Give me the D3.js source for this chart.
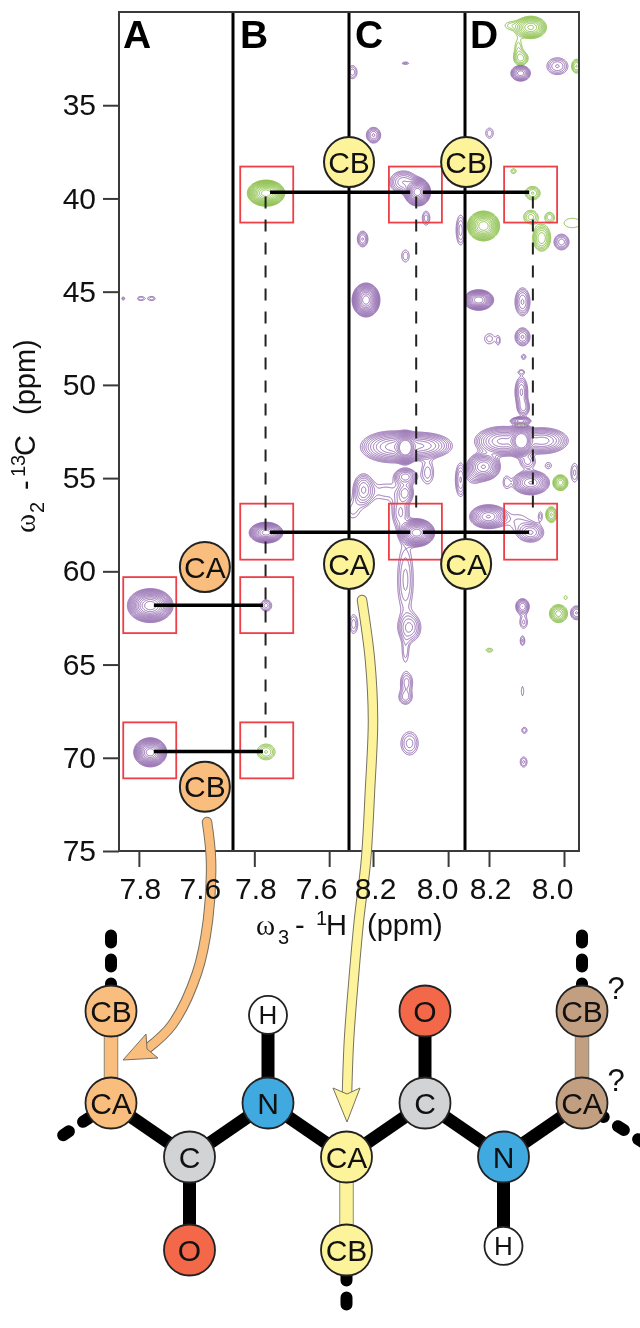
<!DOCTYPE html>
<html>
<head>
<meta charset="utf-8">
<script src="https://cdn.jsdelivr.net/npm/d3@7"></script>
<style>
  html, body { margin: 0; padding: 0; background: #fff; }
  svg { display: block; filter: blur(0.45px); font-family: "Liberation Sans", Arial, sans-serif; }
</style>
</head>
<body>
<script>
// strips of the spectrum, left to right
var panelNames = ["A", "B", "C", "D"];
var panelHLeft = [7.853, 7.857, 8.264, 8.264];
var panelHRight = [7.549, 7.547, 7.955, 7.96];
var xTicks = [[7.8, 7.6], [7.8, 7.6], [8.2, 8.0], [8.2, 8.0]];
var yTicks = [35, 40, 45, 50, 55, 60, 65, 70, 75];

// peaks: [1H ppm, 13C ppm, half width 1H, half width 13C, height]
var purpleA = [
  [7.843, 45.34, 0.004, 0.08, 1.5], [7.796, 45.34, 0.009, 0.11, 1.6], [7.767, 45.34, 0.009, 0.11, 1.6],
  [7.771, 61.81, 0.061, 0.91, 40], [7.771, 69.68, 0.044, 0.78, 40]
];
var purpleB = [
  [7.77, 57.9, 0.045, 0.56, 30], [7.77, 61.81, 0.015, 0.3, 2.5]
];
var greenB = [
  [7.77, 39.69, 0.05, 0.7, 40], [7.77, 69.66, 0.024, 0.42, 3]
];
var purpleC = [
  [8.115, 32.72, 0.009, 0.06, 1.5], [8.256, 33.2, 0.012, 0.35, 2], [8.2, 36.58, 0.019, 0.42, 4],
  [8.083, 39.63, 0.035, 0.75, 40], [8.12, 39.1, 0.037, 0.6, 5], [8.06, 41.03, 0.01, 0.37, 2],
  [8.229, 42.15, 0.014, 0.42, 3], [8.115, 43.06, 0.01, 0.32, 1.6], [7.968, 41.67, 0.012, 0.8, 2.5],
  [8.22, 45.42, 0.037, 0.91, 40], [8.115, 53.35, 0.03, 0.85, 60], [8.15, 53.3, 0.085, 0.85, 12],
  [8.07, 53.24, 0.08, 0.7, 10], [8.056, 54.68, 0.016, 0.6, 2], [8.115, 54.9, 0.03, 0.45, 6],
  [8.115, 55.76, 0.02, 0.5, 4], [8.227, 55.6, 0.027, 0.85, 5], [8.168, 55.7, 0.03, 0.4, 1.5],
  [8.255, 56.7, 0.015, 0.4, 1.4], [8.085, 57.9, 0.048, 0.75, 40], [8.128, 56.82, 0.022, 0.85, 3],
  [8.115, 59.7, 0.013, 1.0, 1.4], [8.115, 61, 0.013, 0.9, 1.4], [8.253, 62.8, 0.011, 0.5, 2],
  [8.104, 62.99, 0.03, 0.75, 4], [8.115, 64.27, 0.008, 0.55, 1.5], [8.112, 65.93, 0.016, 0.5, 2.5],
  [8.115, 66.73, 0.017, 0.37, 2.5], [8.104, 69.2, 0.023, 0.62, 2.5], [7.968, 55.06, 0.014, 0.9, 3]
];
var purpleD = [
  [8.117, 33.26, 0.026, 0.42, 8], [8.019, 32.88, 0.028, 0.45, 3], [8.2, 36.47, 0.01, 0.27, 1.6],
  [8.008, 42.31, 0.02, 0.42, 3.5], [8.229, 45.42, 0.04, 0.55, 25], [8.112, 45.52, 0.02, 0.75, 4],
  [8.2, 47.5, 0.013, 0.27, 1.5], [8.176, 47.6, 0.003, 0.15, 1.2], [8.112, 47.4, 0.02, 0.48, 4],
  [8.109, 48.47, 0.006, 0.13, 1.5], [8.115, 49.27, 0.006, 0.08, 1.3], [8.115, 50.34, 0.017, 0.8, 4],
  [8.109, 51.2, 0.015, 0.42, 3], [8.117, 51.9, 0.027, 0.2, 6], [8.115, 52.97, 0.035, 0.9, 60],
  [8.165, 53, 0.075, 0.8, 12], [8.06, 52.97, 0.07, 0.7, 10], [8.098, 54.1, 0.02, 0.35, 2.5],
  [8.216, 54.36, 0.045, 0.75, 15], [8.243, 54.9, 0.015, 0.3, 1.5], [8.155, 55.2, 0.008, 0.3, 1.5],
  [8.09, 55.22, 0.05, 0.65, 15], [8.043, 54.3, 0.008, 0.16, 1.4], [7.973, 54.68, 0.01, 0.5, 1.8],
  [8.203, 57.04, 0.05, 0.64, 15], [8.09, 57.9, 0.034, 0.5, 5], [8.123, 57.3, 0.022, 0.35, 1.3],
  [8.064, 57, 0.004, 0.18, 1.3], [8.112, 61.86, 0.018, 0.42, 5], [8.109, 62.7, 0.01, 0.32, 1.8],
  [8.112, 63.7, 0.006, 0.25, 1.8], [8.112, 66.4, 0.003, 0.25, 1.3], [8.107, 68.5, 0.007, 0.16, 1.6],
  [8.109, 70.2, 0.009, 0.27, 1.8], [7.968, 62.2, 0.016, 0.37, 3]
];
var greenD = [
  [8.09, 30.8, 0.042, 0.6, 12], [8.144, 30.7, 0.014, 0.18, 1.4], [8.115, 32.46, 0.018, 0.35, 3],
  [8.123, 31.92, 0.009, 0.45, 1.6], [7.968, 32.88, 0.013, 0.37, 3], [8.136, 38.51, 0.007, 0.13, 1.5],
  [8.085, 39.69, 0.02, 0.36, 3], [8.09, 40.97, 0.019, 0.36, 2.5], [8.04, 40.97, 0.011, 0.25, 2],
  [8.061, 42.1, 0.024, 0.7, 5], [7.979, 41.29, 0.022, 0.25, 1.3], [8.216, 41.45, 0.043, 0.8, 25],
  [8.115, 52.17, 0.018, 0.1, 1.3], [8.011, 55.22, 0.02, 0.42, 6], [8.035, 56.93, 0.015, 0.42, 4],
  [8.2, 64.2, 0.009, 0.1, 1.5], [8.016, 62.24, 0.024, 0.48, 6], [7.997, 61.38, 0.004, 0.1, 1.3]
];
var purpleByPanel = [purpleA, purpleB, purpleC, purpleD];
var greenByPanel = [[], greenB, [], greenD];
var contourLevels = [1, 1.3, 1.7, 2.2, 2.9, 3.8, 5, 6.5, 8.5, 11, 14.5, 19, 25, 32];

// red boxes around the assigned peaks
var boxPanel = [1, 2, 3, 1, 2, 3, 0, 1, 0, 1];
var boxH = [7.767, 8.087, 8.089, 7.767, 8.087, 8.089, 7.771, 7.767, 7.771, 7.767];
var boxC = [39.79, 39.79, 39.79, 57.87, 57.87, 57.87, 61.81, 61.81, 69.6, 69.6];

// sequential walk: [from panel, from 1H, to panel, to 1H, 13C]
var walkRows = [
  [1, 7.758, 2, 8.101, 39.67], [2, 8.067, 3, 8.093, 39.67],
  [1, 7.758, 2, 8.101, 57.9], [2, 8.067, 3, 8.093, 57.9],
  [0, 7.76, 1, 7.777, 61.82], [0, 7.76, 1, 7.777, 69.66]
];
// dashed links inside a strip: [panel, 1H, 13C from, 13C to]
var walkLinks = [[1, 7.77, 39.9, 69.4], [2, 8.085, 39.9, 56.9], [3, 8.083, 39.9, 56.9]];

// assignment badges on the spectrum: panel, 1H, 13C
var badgeLabels = ["CB", "CB", "CA", "CA", "CA", "CB"];
var badgePanel = [2, 3, 2, 3, 0, 0];
var badgeH = [8.264, 8.261, 8.264, 8.261, 7.624, 7.624];
var badgeC = [38.05, 38.05, 59.6, 59.6, 59.77, 71.55];
var badgeGroup = ["yellow", "yellow", "yellow", "yellow", "orange", "orange"];

// backbone diagram: column along the chain, level down the page
var atomLabels = ["CB", "CA", "C", "O", "N", "H", "CA", "CB", "C", "O", "N", "H", "CA", "CB"];
var atomCol = [0, 0, 1, 1, 2, 2, 3, 3, 4, 4, 5, 5, 6, 6];
var atomLevel = [0, 1, 1.587, 2.598, 1, 0.043, 1.587, 2.598, 1, 0, 1.587, 2.554, 1, 0];
var atomGroup = ["orange", "orange", "gray", "red", "blue", "white", "yellow", "yellow", "gray", "red", "blue", "white", "brown", "brown"];
var blackBonds = [[1, 2], [2, 3], [2, 4], [4, 5], [4, 6], [6, 8], [8, 9], [8, 10], [10, 11], [10, 12]];
var sideBonds = [[0, 1, "orange"], [6, 7, "yellow"], [12, 13, "brown"]];
// chain continues: [col from, level from, col to, level to]
var stubs = [[0, -0.82, 0, 0], [-0.61, 1.35, 0, 1], [3, 2.853, 3, 3.3], [6, -0.82, 6, 0], [6.79, 1.435, 6, 1]];

var colors = {
  orange: "#f9bd7d", yellow: "#fdf39b", gray: "#d1d3d4", red: "#f26849",
  blue: "#3fa9e0", white: "#ffffff", brown: "#c39f82"
};

var w = 640;
var h = 1328;
var panelEdges = [119, 233, 349, 465, 579];
var plotTop = 12;
var plotBottom = 851;

var svg = d3.select("body").append("svg")
  .attr("width", w)
  .attr("height", h);

var y = d3.scaleLinear().domain([30, 75]).range([plotTop, plotBottom]);
var xs = panelNames.map(function(d, i) {
  return d3.scaleLinear()
    .domain([panelHLeft[i], panelHRight[i]])
    .range([panelEdges[i], panelEdges[i + 1]]);
});

var molX = d3.scaleLinear().domain([0, 6]).range([111, 582]);
var molY = d3.scaleLinear().domain([0, 1]).range([1011, 1103]);

// adds up the peaks of one strip and traces the contour levels
function drawContours(panel, peaks, color) {
  if (!peaks.length) return;
  var x = xs[panel];
  var x0 = panelEdges[panel];
  var nx = panelEdges[panel + 1] - x0;
  var ny = plotBottom - plotTop;
  var field = new Float64Array(nx * ny);

  peaks.forEach(function(p) {
    var k = Math.sqrt(2 * Math.log(p[4]));
    var cx = x(p[0]) - x0;
    var cy = y(p[1]) - plotTop;
    var sx = Math.abs(x(p[0] + p[2]) - x(p[0])) / k;
    var sy = Math.abs(y(p[1] + p[3]) - y(p[1])) / k;
    var i0 = Math.max(0, Math.floor(cx - 5 * sx)), i1 = Math.min(nx - 1, Math.ceil(cx + 5 * sx));
    var j0 = Math.max(0, Math.floor(cy - 5 * sy)), j1 = Math.min(ny - 1, Math.ceil(cy + 5 * sy));
    for (var j = j0; j <= j1; j++) {
      for (var i = i0; i <= i1; i++) {
        var dx = (i - cx) / sx, dy = (j - cy) / sy;
        field[j * nx + i] += p[4] * Math.exp(-0.5 * (dx * dx + dy * dy));
      }
    }
  });

  var contours = d3.contours().size([nx, ny]).thresholds(contourLevels)(Array.from(field));
  svg.append("g")
    .attr("transform", "translate(" + x0 + "," + plotTop + ")")
    .attr("fill", "none")
    .attr("stroke", color)
    .attr("stroke-width", 1)
    .attr("stroke-opacity", 0.95)
    .selectAll("path")
    .data(contours.filter(function(c) { return c.coordinates.length; }))
    .enter().append("path")
    .attr("d", d3.geoPath());
}

panelNames.forEach(function(d, i) { drawContours(i, greenByPanel[i], "#86bd42"); });
panelNames.forEach(function(d, i) { drawContours(i, purpleByPanel[i], "#8f66ad"); });

// strip separators and frame
svg.selectAll(".sep")
  .data(panelEdges.slice(1, 4))
  .enter().append("line")
  .attr("class", "sep")
  .attr("x1", function(d) { return d; })
  .attr("x2", function(d) { return d; })
  .attr("y1", plotTop)
  .attr("y2", plotBottom)
  .attr("stroke", "#000")
  .attr("stroke-width", 3);

svg.append("rect")
  .attr("x", panelEdges[0])
  .attr("y", plotTop)
  .attr("width", panelEdges[4] - panelEdges[0])
  .attr("height", plotBottom - plotTop)
  .attr("fill", "none")
  .attr("stroke", "#3a3a3a")
  .attr("stroke-width", 2);

// y axis
var yAxis = svg.append("g")
  .attr("transform", "translate(" + panelEdges[0] + ",0)")
  .call(d3.axisLeft(y).tickValues(yTicks).tickSize(16).tickPadding(7));
yAxis.select(".domain").remove();
yAxis.selectAll("line").attr("stroke", "#3a3a3a").attr("stroke-width", 2);
yAxis.selectAll("text")
  .attr("fill", "#111")
  .style("font-family", "Liberation Sans")
  .style("font-size", "30px");

// x axis tick marks first, the labels go on top of the arrows later
xs.forEach(function(x, i) {
  var ticks = svg.append("g")
    .attr("transform", "translate(0," + plotBottom + ")")
    .call(d3.axisBottom(x).tickValues(xTicks[i]).tickSize(16).tickFormat(""));
  ticks.select(".domain").remove();
  ticks.selectAll("line").attr("stroke", "#3a3a3a").attr("stroke-width", 2);
});

// red boxes
svg.selectAll(".box")
  .data(boxH)
  .enter().append("rect")
  .attr("class", "box")
  .attr("x", function(d, i) { return xs[boxPanel[i]](d + 0.0707); })
  .attr("y", function(d, i) { return y(boxC[i] - 1.5); })
  .attr("width", 53)
  .attr("height", 56)
  .attr("fill", "none")
  .attr("stroke", "#ee3f47")
  .attr("stroke-width", 1.8);

// dashed links
svg.selectAll(".link")
  .data(walkLinks)
  .enter().append("line")
  .attr("class", "link")
  .attr("x1", function(d) { return xs[d[0]](d[1]); })
  .attr("x2", function(d) { return xs[d[0]](d[1]); })
  .attr("y1", function(d) { return y(d[2]); })
  .attr("y2", function(d) { return y(d[3]); })
  .attr("stroke", "#222")
  .attr("stroke-width", 2)
  .attr("stroke-dasharray", "12 11");

// solid walk lines
svg.selectAll(".walk")
  .data(walkRows)
  .enter().append("line")
  .attr("class", "walk")
  .attr("x1", function(d) { return xs[d[0]](d[1]); })
  .attr("x2", function(d) { return xs[d[2]](d[3]); })
  .attr("y1", function(d) { return y(d[4]); })
  .attr("y2", function(d) { return y(d[4]); })
  .attr("stroke", "#000")
  .attr("stroke-width", 3.5);

// panel letters
svg.selectAll(".letter")
  .data(panelNames)
  .enter().append("text")
  .attr("class", "letter")
  .attr("x", function(d, i) { return panelEdges[i] + [4, 7, 6, 5][i]; })
  .attr("y", 48)
  .attr("font-size", 39)
  .attr("font-weight", "bold")
  .attr("fill", "#000")
  .text(function(d) { return d; });

// spectrum badges
var badges = svg.selectAll(".badge")
  .data(badgeLabels)
  .enter().append("g")
  .attr("class", "badge")
  .attr("transform", function(d, i) {
    return "translate(" + xs[badgePanel[i]](badgeH[i]) + "," + y(badgeC[i]) + ")";
  });
badges.append("circle")
  .attr("r", 25)
  .attr("fill", function(d, i) { return colors[badgeGroup[i]]; })
  .attr("stroke", "#222")
  .attr("stroke-width", 2);
badges.append("text")
  .attr("text-anchor", "middle")
  .attr("dy", "0.36em")
  .attr("font-size", 30)
  .attr("fill", "#111")
  .text(function(d) { return d; });

// backbone bonds
function atomX(i) { return molX(atomCol[i]); }
function atomY(i) { return molY(atomLevel[i]); }

svg.selectAll(".stub")
  .data(stubs)
  .enter().append("line")
  .attr("class", "stub")
  .attr("x1", function(d) { return molX(d[0]); })
  .attr("y1", function(d) { return molY(d[1]); })
  .attr("x2", function(d) { return molX(d[2]); })
  .attr("y2", function(d) { return molY(d[3]); })
  .attr("stroke", "#000")
  .attr("stroke-width", 12)
  .attr("stroke-linecap", "round")
  .attr("stroke-dasharray", "7 17");

svg.selectAll(".bond")
  .data(blackBonds)
  .enter().append("line")
  .attr("class", "bond")
  .attr("x1", function(d) { return atomX(d[0]); })
  .attr("y1", function(d) { return atomY(d[0]); })
  .attr("x2", function(d) { return atomX(d[1]); })
  .attr("y2", function(d) { return atomY(d[1]); })
  .attr("stroke", "#000")
  .attr("stroke-width", 13);

svg.selectAll(".sideEdge")
  .data(sideBonds)
  .enter().append("line")
  .attr("class", "sideEdge")
  .attr("x1", function(d) { return atomX(d[0]); })
  .attr("y1", function(d) { return atomY(d[0]); })
  .attr("x2", function(d) { return atomX(d[1]); })
  .attr("y2", function(d) { return atomY(d[1]); })
  .attr("stroke", "#8a8a7a")
  .attr("stroke-width", 14.5);
svg.selectAll(".side")
  .data(sideBonds)
  .enter().append("line")
  .attr("class", "side")
  .attr("x1", function(d) { return atomX(d[0]); })
  .attr("y1", function(d) { return atomY(d[0]); })
  .attr("x2", function(d) { return atomX(d[1]); })
  .attr("y2", function(d) { return atomY(d[1]); })
  .attr("stroke", function(d) { return colors[d[2]]; })
  .attr("stroke-width", 12.5);

// atoms
var atoms = svg.selectAll(".atom")
  .data(atomLabels)
  .enter().append("g")
  .attr("class", "atom")
  .attr("transform", function(d, i) { return "translate(" + atomX(i) + "," + atomY(i) + ")"; });
atoms.append("circle")
  .attr("r", function(d) { return d == "H" ? 19 : 25.5; })
  .attr("fill", function(d, i) { return colors[atomGroup[i]]; })
  .attr("stroke", "#222")
  .attr("stroke-width", 1.8);
atoms.append("text")
  .attr("text-anchor", "middle")
  .attr("dy", "0.36em")
  .attr("font-size", function(d) { return d == "H" ? 26 : 30; })
  .attr("fill", "#111")
  .text(function(d) { return d; });

svg.selectAll(".query")
  .data([0, 1])
  .enter().append("text")
  .attr("class", "query")
  .attr("x", 616)
  .attr("y", function(d) { return molY(d) - 12; })
  .attr("text-anchor", "middle")
  .attr("font-size", 31)
  .attr("fill", "#111")
  .text("?");

// curved arrows from the badges to the diagram
var orangeBody = [[207, 822], [211, 860], [208, 920], [197, 973], [172, 1025], [148, 1048]];
var orangeHead = [[123, 1060], [146, 1034], [147, 1049], [158, 1058]];
var yellowBody = [[362, 600], [370, 660], [373, 720], [370, 790], [366, 860], [359, 920], [354, 975], [349, 1040], [347, 1094]];
var yellowHead = [[347, 1122], [333, 1088], [347, 1094], [360, 1088]];
var curve = d3.line().curve(d3.curveCatmullRom);

function drawArrow(body, head, fill) {
  svg.append("path")
    .attr("d", curve(body))
    .attr("fill", "none")
    .attr("stroke", "#77705f")
    .attr("stroke-width", 10.5)
    .attr("stroke-linecap", "round");
  svg.append("path")
    .attr("d", curve(body))
    .attr("fill", "none")
    .attr("stroke", fill)
    .attr("stroke-width", 8.5)
    .attr("stroke-linecap", "round");
  svg.append("polygon")
    .attr("points", head.join(" "))
    .attr("fill", fill)
    .attr("stroke", "#77705f")
    .attr("stroke-width", 1);
}
drawArrow(orangeBody, orangeHead, colors.orange);
drawArrow(yellowBody, yellowHead, colors.yellow);

// x tick labels, some sit left of their tick in the original
var labelShift = [[1, -14], [1, -13], [2, -11], [1, -12]];
xs.forEach(function(x, i) {
  var labels = svg.append("g")
    .attr("transform", "translate(0," + plotBottom + ")")
    .call(d3.axisBottom(x).tickValues(xTicks[i]).tickSize(0).tickPadding(27).tickFormat(d3.format(".1f")));
  labels.select(".domain").remove();
  labels.selectAll("text")
    .attr("dx", function(d, j) { return labelShift[i][j]; })
    .attr("fill", "#111")
    .style("font-family", "Liberation Sans")
    .style("font-size", "30px");
});

// axis titles
var xTitle = svg.append("text")
  .attr("y", 935)
  .attr("font-size", 29)
  .attr("fill", "#111");
xTitle.append("tspan").attr("x", 256).attr("font-family", "Liberation Serif").text("ω");
xTitle.append("tspan").attr("x", 278).attr("font-size", 20).attr("dy", 9).text("3");
xTitle.append("tspan").attr("x", 295).attr("dy", -9).text("-");
xTitle.append("tspan").attr("x", 316).attr("font-size", 20).attr("dy", -10).text("1");
xTitle.append("tspan").attr("x", 326).attr("dy", 10).text("H");
xTitle.append("tspan").attr("x", 367).text("(ppm)");

var yTitle = svg.append("text")
  .attr("transform", "translate(35,533) rotate(-90)")
  .attr("font-size", 29)
  .attr("fill", "#111");
yTitle.append("tspan").attr("x", 0).attr("font-family", "Liberation Serif").text("ω");
yTitle.append("tspan").attr("x", 20).attr("font-size", 20).attr("dy", 9).text("2");
yTitle.append("tspan").attr("x", 43).attr("dy", -9).text("-");
yTitle.append("tspan").attr("x", 56).attr("font-size", 20).attr("dy", -10).text("13");
yTitle.append("tspan").attr("x", 77).attr("dy", 10).text("C");
yTitle.append("tspan").attr("x", 118).text("(ppm)");
</script>
</body>
</html>
